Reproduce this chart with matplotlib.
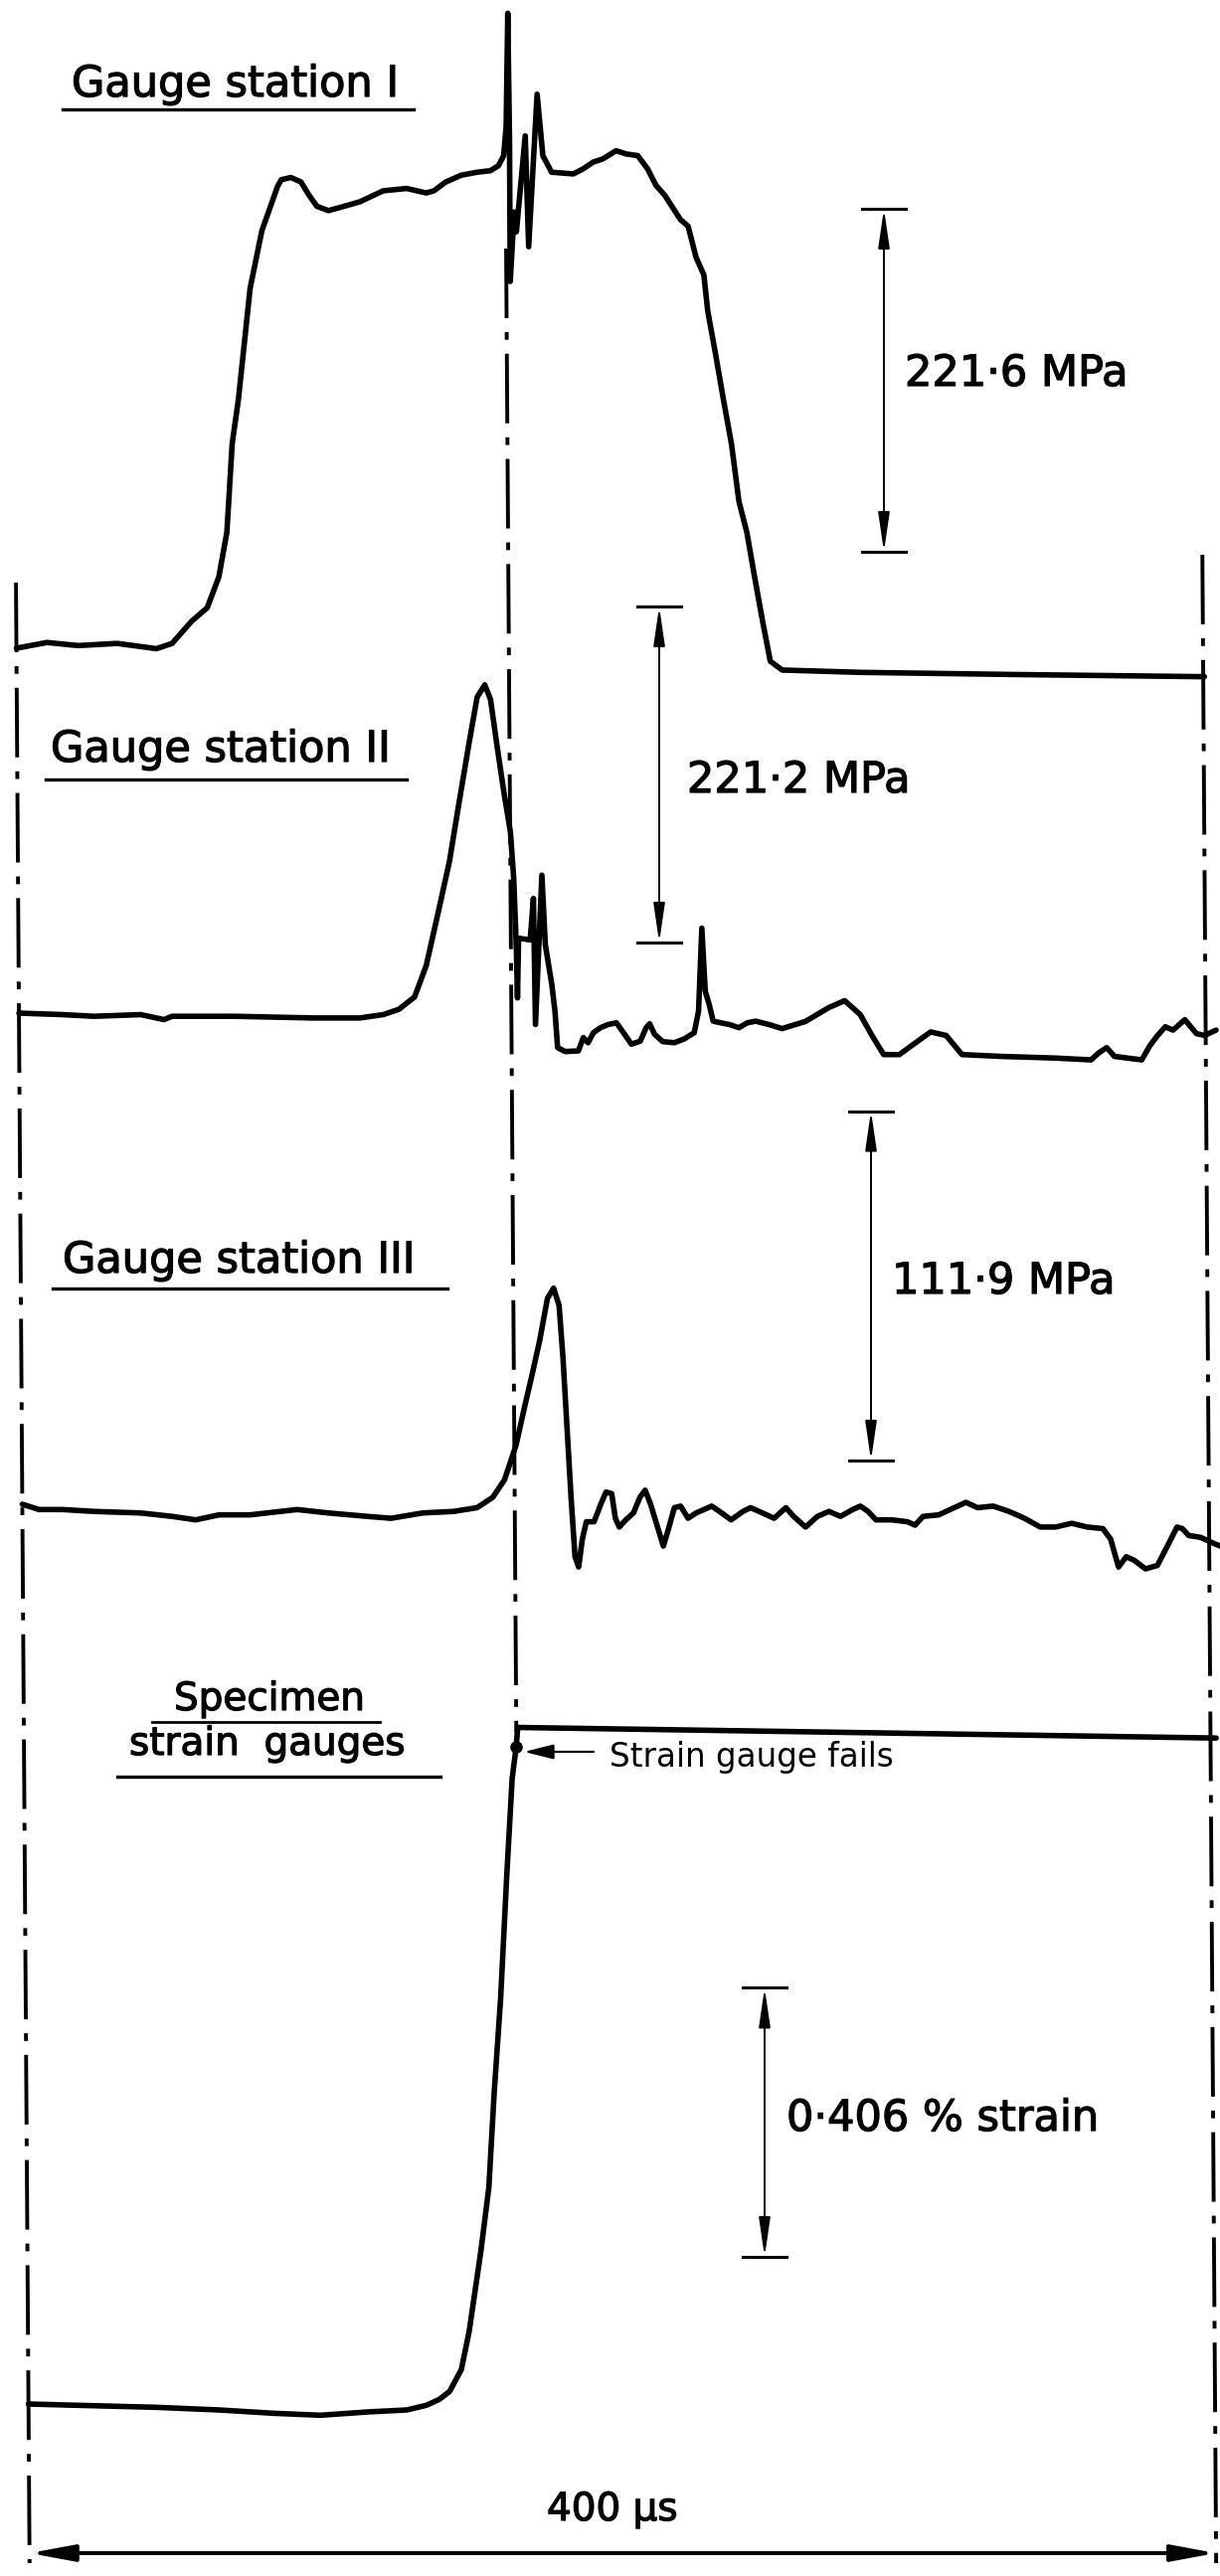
import numpy as np
import matplotlib
matplotlib.use('Agg')
import matplotlib.pyplot as plt
import matplotlib.transforms as mtransforms
import matplotlib.patheffects as pe

# Oscilloscope records, time in microseconds
# ------------------------------------------
# Gauge station I, stress (MPa)
t1 = [0, 10.3, 20.8, 34.0, 47.2, 52.5, 59.1, 64.4, 68.4, 71.2,
      73.2, 75.4, 79.6, 83.7, 86.4, 89.1, 90.4, 93.6, 97.0, 99.7,
      102.3, 106.2, 111.5, 116.8, 124.7, 132.6, 139.2, 141.8, 145.8, 151.1,
      156.4, 160.9, 163.6, 165.4, 166.3, 167.1, 167.4, 167.3, 168.8, 169.5,
      172.7, 173.6, 176.8, 178.6, 181.5, 188.8, 192.1, 195.5, 198.8, 203.3,
      206.7, 210.6, 213.9, 216.7, 219.6, 224.8, 227.4, 230.0, 232.6, 233.8,
      236.4, 238.9, 241.5, 243.9, 246.5, 249.0, 251.6, 254.1, 258.1, 284.4,
      337.2, 400.4]
s1 = [0, 3.7, 1.7, 3.1, -0.3, 3.1, 17.4, 26.1, 46.1, 74.8,
      132.1, 160.7, 232.4, 269.7, 284.0, 298.4, 302.7, 304.1, 301.2, 292.6,
      285.5, 282.7, 285.5, 288.4, 295.5, 297.0, 294.1, 295.5, 301.2, 305.6,
      307.5, 308.5, 311.7, 318.2, 337.5, 410.2, 328.9, 236.9, 281.8, 269.0,
      331.0, 259.4, 357.9, 318.2, 307.5, 306.4, 309.6, 314.0, 316.1, 321.4,
      319.3, 318.2, 309.6, 298.9, 292.6, 277.0, 272.6, 252.6, 241.1, 218.1,
      189.5, 160.7, 132.1, 94.8, 74.8, 46.1, 17.4, -8.4, -14.1, -15.6,
      -17.0, -18.4]

# Gauge station II, stress (MPa)
t2 = [0, 14.7, 25.2, 41.1, 48.9, 51.6, 72.7, 99.1, 114.9, 122.8,
      128.1, 133.4, 137.4, 141.5, 145.5, 148.3, 152.4, 155.2, 157.8, 159.7,
      161.8, 164.0, 166.1, 167.1, 167.8, 168.1, 168.6, 172.5, 173.7, 174.1,
      176.6, 177.6, 179.7, 180.7, 181.5, 184.0, 188.5, 190.2, 191.8, 193.6,
      196.0, 198.6, 201.4, 204.1, 206.4, 209.4, 211.4, 212.6, 214.2, 217.0,
      220.9, 224.3, 227.6, 229.1, 230.4, 231.4, 232.7, 234.0, 236.6, 239.4,
      242.7, 245.5, 248.3, 253.3, 257.2, 265.1, 273.1, 278.4, 283.6, 287.5,
      291.4, 296.7, 300.7, 307.3, 312.5, 317.8, 331.0, 349.4, 361.3, 363.9,
      366.6, 369.2, 378.4, 381.1, 383.8, 386.4, 389.0, 393.0, 396.9, 399.6,
      403.5]
s2 = [0, -1.0, -2.1, -1.0, -4.3, -2.1, -2.1, -3.2, -3.2, -1.0,
      2.5, 10.6, 31.2, 65.7, 100.1, 132.3, 178.2, 208.0, 216.1, 206.4,
      175.8, 145.3, 119.1, 88.6, 45.0, 10.0, 49.3, 48.2, 75.5, -7.5,
      90.8, 45.0, 18.8, 1.3, -22.7, -25.3, -24.9, -16.1, -19.5, -12.9,
      -9.6, -7.5, -6.4, -13.9, -20.5, -18.4, -9.6, -7.0, -13.9, -18.8,
      -19.5, -16.9, -12.9, 1.3, 55.9, 14.4, 5.7, -5.3, -6.4, -7.5,
      -9.6, -6.4, -5.3, -7.8, -10.2, -5.5, 3.7, 8.2, -1.0, -14.7,
      -27.3, -27.3, -21.6, -12.4, -14.7, -27.3, -28.5, -29.6, -30.8, -26.2,
      -22.7, -28.5, -30.8, -21.6, -14.7, -9.0, -11.2, -4.3, -13.5, -14.7,
      -11.2]

# Gauge station III, stress (MPa)
t3 = [0, 5.6, 13.6, 24.1, 39.9, 50.5, 58.4, 66.3, 76.8, 92.6,
      103.2, 116.4, 124.3, 134.9, 145.4, 153.3, 158.6, 162.6, 166.6, 169.3,
      172.1, 174.8, 177.5, 179.6, 181.4, 182.6, 183.8, 185.0, 186.2, 187.4,
      188.7, 190.1, 192.7, 195.0, 196.8, 198.7, 199.9, 201.2, 203.4, 206.0,
      208.2, 210.0, 211.8, 213.9, 216.0, 217.8, 219.8, 221.9, 224.4, 227.1,
      232.4, 235.0, 238.9, 242.9, 245.5, 249.5, 253.4, 257.4, 260.0, 264.0,
      268.0, 271.9, 275.8, 279.9, 282.5, 285.1, 287.7, 293.0, 298.3, 300.9,
      303.6, 308.9, 312.8, 318.1, 322.0, 327.3, 332.6, 337.8, 343.1, 348.3,
      353.7, 358.9, 364.2, 366.8, 369.4, 372.0, 374.6, 378.5, 382.5, 386.5,
      389.2, 391.0, 393.1, 397.1, 401.0, 403.7]
s3 = [0, -1.7, -1.7, -2.3, -2.8, -3.9, -5.0, -3.4, -3.4, -1.7,
      -2.8, -3.9, -4.5, -2.8, -2.3, -1.1, 2.2, 7.8, 19.0, 30.2,
      41.3, 52.5, 65.9, 69.2, 63.7, 46.9, 24.5, 2.2, -16.8, -20.1,
      -11.2, -5.6, -5.6, 0, 3.9, 3.4, -4.5, -7.3, -5.0, -2.8,
      2.2, 4.5, 0, -6.7, -13.4, -7.8, -1.1, -0.6, -4.5, -2.8,
      -0.6, -2.3, -5.0, -2.3, -1.1, -2.8, -4.5, -1.1, -3.9, -7.3,
      -3.9, -2.3, -3.9, -1.7, -0.6, -2.3, -5.0, -5.0, -5.6, -6.7,
      -3.9, -3.4, -1.7, 0.6, -1.1, -0.6, -2.3, -4.5, -7.3, -7.3,
      -6.1, -7.3, -7.8, -11.2, -20.1, -16.8, -17.9, -20.7, -19.6, -12.3,
      -7.3, -7.8, -10.0, -10.6, -12.3, -13.4]

# Specimen strain gauges, strain (%)
t4 = [0, 16.7, 43.1, 64.2, 82.6, 98.4, 114.3, 127.5, 134.1, 138.5,
      142.0, 146.0, 148.7, 152.9, 155.7, 157.7, 160.1, 162.5, 164.5, 165.9,
      166.5, 255.6, 401.9]
e4 = [0, -0.002, -0.005, -0.009, -0.014, -0.017, -0.012, -0.009, -0.002, 0.007,
      0.019, 0.052, 0.109, 0.232, 0.327, 0.469, 0.612, 0.801, 0.944, 0.991,
      1.021, 1.015, 1.005]
t_fail, e_fail = 165.9, 0.991

# Calibration steps
cal_vals = [221.6, 221.2, 111.9, 0.406]
cal_text = ['221·6 MPa', '221·2 MPa', '111·9 MPa', '0·406 % strain']
station_names = ['Gauge station I', 'Gauge station II', 'Gauge station III']
t_span = 400
t_break = 166


# Layout (px)
# -----------
W, H = 1227, 2591
X0, XS = 12.05, 2.9835        # px at t=0, px per us
SHEAR = 0.0023                # record skew, us per px down the sheet
base = [652, 1019, 1513, 2418]        # trace zero lines
gain = [1.557, 1.528, 3.141, 666.5]   # px per MPa / px per %
cal_x = [889, 663, 876, 769]
cal_y0 = [555, 948, 1469, 2270]
cal_lab = [(910, 388), (691, 797), (897, 1301), (791, 2143)]
lab_pos = [(72, 97), (51, 766), (63, 1280)]
lab_line = [(63, 416, 110), (46, 409, 784), (53, 450, 1296)]

fig = plt.figure(figsize=(W / 100, H / 100), dpi=100)
ax = fig.add_axes([0, 0, 1, 1])
ax.set_xlim(-X0 / XS, (W - X0) / XS)
ax.set_ylim(H, 0)
ax.set_autoscale_on(False)
ax.axis('off')

rec = mtransforms.Affine2D(np.array([[1, SHEAR, 0], [0, 1, 0], [0, 0, 1.]])) + ax.transData
pix = mtransforms.Affine2D().scale(1 / W, -1 / H).translate(0, 1) + fig.transFigure

# lettering a touch heavier than the plain face
font = dict(family='DejaVu Sans', color='k',
            path_effects=[pe.withStroke(linewidth=0.9, foreground='k')])

# Traces
for t, v, b, k in zip([t1, t2, t3, t4], [s1, s2, s3, e4], base, gain):
    ax.plot(t, b - np.asarray(v) * k, color='k', lw=4.0,
            solid_joinstyle='round', solid_capstyle='round', transform=rec)
ax.plot([t_fail], [base[3] - e_fail * gain[3]], 'o', ms=8, color='k', transform=rec)

# Time marks
for tt, ya, yb in [(0, 586, 2578), (t_break, 250, 1742), (t_span, 558, 2578)]:
    ax.plot([tt, tt], [ya, yb], color='k', lw=2.8,
            dashes=(18, 3.6, 2.0, 3.6), transform=rec)

ax.annotate('', xy=(0, 2568), xytext=(t_span, 2568), xycoords=rec, textcoords=rec,
            arrowprops=dict(arrowstyle='<|-|>,head_length=2.7,head_width=0.5',
                            lw=2.8, color='k', shrinkA=0, shrinkB=0, mutation_scale=10))
fig.text(550, 2535, '400 µs', fontsize=28, transform=pix, va='baseline', **font)

# Calibration bars
for v, k, x, y0, txt, (lx, ly) in zip(cal_vals, gain, cal_x, cal_y0, cal_text, cal_lab):
    y1 = y0 - v * k
    ax.annotate('', xy=(x, y1), xytext=(x, y0), xycoords=pix, textcoords=pix,
                arrowprops=dict(arrowstyle='<|-|>,head_length=2.4,head_width=0.35',
                                lw=1.4, color='k', shrinkA=0, shrinkB=0, mutation_scale=10))
    for yy in (y0, y1):
        ax.plot([x - 22, x + 22], [yy, yy], color='k', lw=2.2, transform=pix)
    fig.text(lx, ly, txt, fontsize=31, transform=pix, va='baseline', **font)

# Station labels
for name, (lx, ly), (xa, xb, yl) in zip(station_names, lab_pos, lab_line):
    fig.text(lx, ly, name, fontsize=31, transform=pix, va='baseline', **font)
    ax.plot([xa, xb], [yl, yl], color='k', lw=2.4, transform=pix)

fig.text(175, 1720, 'Specimen', fontsize=28, transform=pix, va='baseline', **font)
ax.plot([153, 382], [1732, 1732], color='k', lw=2.0, transform=pix)
fig.text(130, 1765, 'strain  gauges', fontsize=28, transform=pix, va='baseline', **font)
ax.plot([118, 443], [1787, 1787], color='k', lw=2.4, transform=pix)

ax.annotate('', xy=(527, 1762), xytext=(597, 1762), xycoords=pix, textcoords=pix,
            arrowprops=dict(arrowstyle='-|>,head_length=1.8,head_width=0.45',
                            lw=1.6, color='k', shrinkA=0, shrinkB=0, mutation_scale=10))
fig.text(613, 1777, 'Strain gauge fails', fontsize=23.5, transform=pix, va='baseline',
         family='DejaVu Sans', color='k')

fig.savefig('out.png', dpi=100, facecolor='white')
